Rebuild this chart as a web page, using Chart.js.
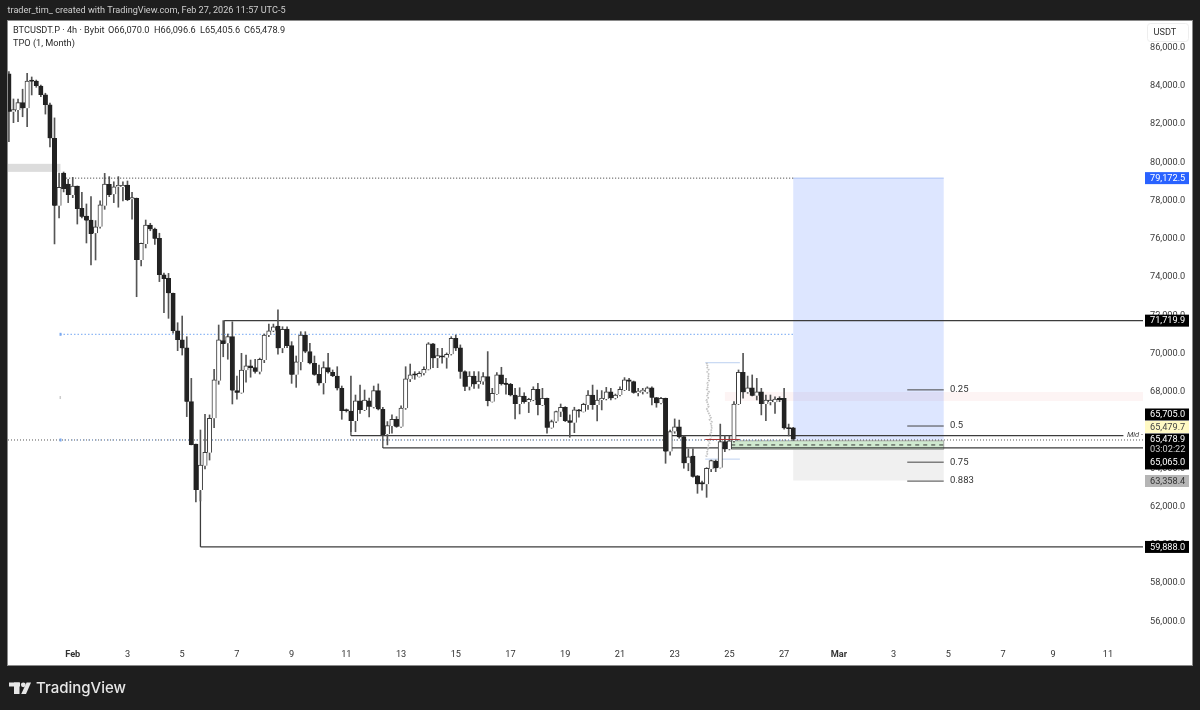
<!DOCTYPE html>
<html><head><meta charset="utf-8">
<style>html,body{margin:0;padding:0;background:#1e1e1e;overflow:hidden}canvas{display:block}</style>
<script src="https://cdn.jsdelivr.net/npm/chart.js@4"></script>
</head><body><canvas id="c" width="1200" height="710" style="width:1200px;height:710px"></canvas>
<script>
const opens=[84580,82600,82690,83080,82780,84210,84210,83950,83480,82960,81210,77690,79400,78820,78250,78720,77550,77150,76940,76250,76590,77690,78810,78290,78680,78670,78770,78020,78080,74850,75690,76680,76470,75980,74070,73890,73110,71140,70680,70260,67440,65230,62820,64090,64770,66570,68540,70630,70490,70840,68020,67910,69080,69310,69220,69010,69620,70930,71150,71400,70230,71240,70370,68850,69520,70930,70060,69450,68870,68400,69220,68980,68780,68140,66990,66950,66430,67490,67010,67480,67150,68020,67040,65740,66170,66520,66130,67100,68610,68890,68750,68930,69130,70460,69710,69830,69740,69920,70760,70260,69010,68220,68780,68350,68490,68750,67440,67840,68840,68400,68350,67780,67320,67740,67420,67530,68090,67270,67620,66080,66400,66920,67150,66450,66340,67010,66920,67270,67790,67270,67530,67580,67960,67620,67790,68050,68580,68490,67910,67960,67930,68170,67650,67360,67620,64830,65880,66130,65610,64220,64600,63560,63210,63120,63910,64340,63990,65350,64950,65390,67320,68980,67930,68170,67750,67960,67320,67410,67410,67620,67620,66050,66070];
const highs=[84700,83270,83270,83780,84610,84420,84260,84000,83570,83060,82280,79400,79450,79070,79170,78720,78390,77780,78160,76910,77940,79380,79210,78940,79210,78940,78980,78390,78090,75740,76940,76770,76520,76250,74170,74150,73120,71570,71920,70840,68660,65230,65960,66780,66750,69130,71450,71680,70980,71620,68780,69970,69880,69620,69660,69720,70980,71500,71500,72240,71360,71360,70580,69830,71100,71100,70490,69830,69360,69530,69970,69100,69270,68260,67060,68780,67790,68310,68050,67630,68260,68370,67150,66400,66750,66660,67220,69270,69410,69010,69010,69270,70530,70490,70230,70230,69990,70840,70930,70410,69060,69010,69010,69010,68960,70060,68140,68960,69240,68660,68400,68140,68170,67910,67620,68220,68400,68140,67630,66480,66950,67320,67180,66750,67150,67040,67360,68020,68310,68050,68020,68190,68140,67840,68220,68700,68660,68520,68140,68140,68220,68220,67670,67670,67630,65960,66540,66480,65650,64970,64970,63580,63290,63990,64390,64390,66270,65650,65650,67440,69100,69970,68780,68840,68660,68140,67790,67790,67700,67700,68140,66270,66100];
const lows=[81040,82030,82080,82340,81820,83480,83880,83390,82480,80760,75690,77050,78410,77850,78110,76730,77050,75740,74590,74850,76520,77500,78160,77850,77610,77940,77950,76990,72930,74540,75480,76380,75670,73720,72090,71800,71030,70110,69880,66660,65180,62200,62250,63920,64390,66080,68350,69790,69660,67320,67570,67880,68460,68720,68930,68890,69480,70840,71100,69930,70000,70260,68400,68190,69100,70000,69410,68820,68310,67840,68930,68750,68050,66520,66900,65870,65870,66830,66970,66640,67110,67010,65700,65180,65790,66100,66100,67040,68490,68610,68730,68840,69100,69220,69220,69460,69190,69880,70110,68660,68020,68050,68140,68140,68350,67220,67420,67820,68310,67840,67740,66540,66800,67360,66870,67490,66750,67240,65790,66050,66340,66660,66400,65580,65820,66630,66900,67040,67040,66430,67010,67530,67530,67580,67740,68020,68020,67880,67740,67840,67880,67270,67150,67320,64220,64650,65790,65530,63960,63830,63500,62650,62820,62440,63780,63780,63970,64830,64920,65320,67290,67620,67880,67740,67530,66750,66450,67270,66830,67440,66000,65650,65410];
const closes=[82600,82720,83080,82780,84210,84180,83950,83480,82960,81210,77690,78650,78560,78250,78720,77520,77110,76910,76210,76590,77730,78820,78250,78680,78720,78760,77990,78110,74850,75720,76680,76460,75960,74070,73860,73110,71140,70670,70230,67440,65180,62820,64130,64790,66570,68580,70670,70460,70840,68020,67910,69100,69310,69200,69010,69660,70930,71150,71360,70230,71230,70350,68850,69530,70930,70060,69450,68850,68400,69220,68980,68780,68140,66950,66950,66430,67490,67010,67530,67180,68020,67040,65700,66190,66520,66130,67110,68630,68840,68820,68930,69130,70460,69710,69850,69760,69920,70760,70230,69010,68220,68780,68350,68520,68750,67480,67880,68840,68370,68330,67780,67320,67740,67420,67570,68090,67270,67620,66080,66400,66920,67150,66430,66340,67010,66940,67300,67790,67270,67530,67620,67960,67620,67790,68090,68580,68490,67910,68000,68050,68170,67650,67360,67620,64830,65880,66130,65580,64220,64560,63520,63120,63120,63960,64360,63960,65350,64950,65390,67320,68980,67930,68170,67750,67960,67320,67530,67530,67580,67530,66050,66010,65478.9];

const xTickIdx=[14,26,38,50,62,74,86,98,110,122,134,146,158,170,182,194,206,218,229,241];
const xTickText=['Feb','3','5','7','9','11','13','15','17','19','21','23','25','27','Mar','3','5','7','9','11'];
const yTickValues=[56000,58000,60000,62000,64000,66000,68000,70000,72000,74000,76000,78000,80000,82000,84000,86000];

const upperLevel=71719.9, lowerLevel=59888.0, rangeHigh=65705.0, rangeLow=65065.0;
const midDotted=65479.7, targetPrice=79172.5, stopPrice=63358.4, blueDotted=71006;
const fibLevels=[68100,66210,64320,63330];
const fibNames=['0.25','0.5','0.75','0.883'];
const tpoPrices=[69480,69380,69250,69120,69000,68850,68700,68560,68400,68250,68100,67950,67800,67650,67500,67350,67200,67050,66900,66750,66620,66500,66380,66250,66120,66000,65880,65750,65620,65500,65380,65250,65120,65000,64880,64750,64620,64500];
const tpoWidths=[0.3,0.6,0.4,0.8,0.5,0.9,0.6,0.9,0.5,0.7,0.4,0.9,0.4,0.7,0.3,0.6,0.8,0.4,0.7,1.0,1.3,1.0,1.5,1.2,1.6,1.3,1.5,1.1,1.4,1.2,0.8,1.0,0.6,0.8,0.4,0.6,0.3,0.4];

const idx=opens.map((_,i)=>i);
const wicks=idx.map(i=>({x:i,y:[lows[i],highs[i]]}));
const bodies=idx.map(i=>({x:i,y:[Math.min(opens[i],closes[i]),Math.max(opens[i],closes[i])]}));
const FONT='Roboto, sans-serif';
const levelNudge=0.8;

function hline(ctx,x1,x2,y,color,w,dash){ctx.save();ctx.strokeStyle=color;ctx.lineWidth=w;ctx.setLineDash(dash||[]);ctx.beginPath();ctx.moveTo(x1,y);ctx.lineTo(x2,y);ctx.stroke();ctx.restore();}
function vline(ctx,x,y1,y2,color,w){ctx.save();ctx.strokeStyle=color;ctx.lineWidth=w;ctx.beginPath();ctx.moveTo(x,y1);ctx.lineTo(x,y2);ctx.stroke();ctx.restore();}
function priceTag(ctx,text,y,bg,fg,h){ctx.fillStyle=bg;ctx.fillRect(1145,y-(h||12)/2,44,h||12);ctx.fillStyle=fg;ctx.font='9.2px '+FONT;ctx.textAlign='left';ctx.textBaseline='middle';ctx.fillText(text,1150,y+0.5);}

const backdrop={id:'backdrop',
 beforeDraw(c){const g=c.ctx;g.save();g.fillStyle='#1e1e1e';g.fillRect(0,0,1200,710);g.fillStyle='#8a8a8a';g.fillRect(7,20,1186,646);g.fillStyle='#fff';g.fillRect(8,21,1184,644);g.restore();},
 beforeDatasetsDraw(c){const g=c.ctx,X=c.scales.x,Y=c.scales.y,px=v=>X.getPixelForValue(v),py=v=>Y.getPixelForValue(v)+levelNudge,L=c.chartArea.left,R=c.chartArea.right;
  g.save();
  g.beginPath();g.rect(L,c.chartArea.top,R-L,c.chartArea.bottom-c.chartArea.top);g.clip();
  g.fillStyle='#dcdcdc';g.fillRect(L,py(79920),px(11.3)-L,py(79500)-py(79920));
  g.fillStyle='#fdf4f4';g.fillRect(px(157),py(67990),R-px(157),py(67520)-py(67990));
  g.fillStyle='rgba(41,98,255,0.16)';g.fillRect(px(172),py(targetPrice),px(205)-px(172),py(midDotted)-py(targetPrice));
  hline(g,px(172),px(205),py(targetPrice),'#a9c0f5',1);
  g.fillStyle='#f0f0f0';g.fillRect(px(172),py(midDotted),px(205)-px(172),py(stopPrice)-py(midDotted));
  g.fillStyle='#cfe9cf';g.fillRect(px(158.4),py(65440),px(205)-px(158.4),py(64990)-py(65440));
  hline(g,px(158.4),px(205),py(65440),'#999',0.8);hline(g,px(158.4),px(205),py(64990),'#999',0.8);
  vline(g,px(205),py(65440),py(64990),'#999',0.8);
  hline(g,px(158.4),px(205),py(65220),'#222',0.9,[4,4]);
  const dark='#3c3c3c';
  hline(g,px(47.2),R,py(upperLevel),dark,1.3);vline(g,px(47.2),py(upperLevel),py(70650),dark,1.3);
  hline(g,px(42),R,py(lowerLevel),dark,1.3);vline(g,px(42),py(lowerLevel),py(62800),dark,1.3);
  hline(g,px(75),px(244.4),py(rangeHigh),dark,1.2);vline(g,px(75),py(rangeHigh),py(66430),dark,1.2);
  hline(g,px(82),R,py(rangeLow),dark,1.2);vline(g,px(82),py(rangeLow),py(65700),dark,1.2);
  hline(g,px(11.9),px(172),py(targetPrice),'#333',1,[1,2]);
  hline(g,px(11.2),px(172),py(blueDotted),'#8fb8f5',1.3,[1.5,2]);
  hline(g,L,R,py(midDotted),'#555',1,[1,2]);
  hline(g,px(11.2),px(172),py(midDotted),'#8fb8f5',1,[1,3]);
  g.fillStyle='#7aa8ef';g.fillRect(px(11.1),py(blueDotted)-1.5,2,3);g.fillRect(px(11.1),py(midDotted)-1.5,2,3);
  g.fillStyle='#ccc';g.fillRect(px(11.1),py(67700)-1.5,1.5,3);
  hline(g,px(152.7),px(160.3),py(69520),'#bcd0f0',1);
  hline(g,px(152.7),px(160.3),py(64480),'#bcd0f0',1);
  fibLevels.forEach((v,i)=>{hline(g,px(197),px(205),py(v),'#444',1);
    g.fillStyle='#333';g.font='9.5px '+FONT;g.textAlign='left';g.textBaseline='middle';g.fillText(fibNames[i],950,py(v));});
  g.restore();
 },
 afterDatasetsDraw(c){const g=c.ctx,X=c.scales.x,Y=c.scales.y;
  hline(g,X.getPixelForValue(152.7),X.getPixelForValue(160.3),Y.getPixelForValue(midDotted)+levelNudge-0.5,'#a33',1);
 },
 afterDraw(c){const g=c.ctx,Y=c.scales.y,py=v=>Y.getPixelForValue(v)+levelNudge;
  g.save();
  g.textBaseline='middle';g.textAlign='left';
  g.fillStyle='#cfcfcf';g.font='9.15px '+FONT;g.fillText('trader_tim_ created with TradingView.com, Feb 27, 2026 11:57 UTC-5',7.5,11);
  g.fillStyle='#2a2a2a';g.font='9.2px '+FONT;
  g.fillText('BTCUSDT.P · 4h · Bybit',13,30.5);
  g.fillText('O66,070.0',108,30.5);g.fillText('H66,096.6',154,30.5);g.fillText('L65,405.6',200,30.5);g.fillText('C65,478.9',244,30.5);
  g.fillText('TPO (1, Month)',13,43.5);
  g.fillStyle='#fff';g.fillRect(1125,431,18,8);
  g.fillStyle='#444';g.font='italic 7.5px '+FONT;g.fillText('Mid -',1127,435.5);
  g.fillStyle='#fff';g.strokeStyle='#eeeeee';g.lineWidth=1;g.beginPath();g.roundRect(1147.5,23.5,41,18,3);g.fill();g.stroke();
  g.fillStyle='#333';g.font='9.2px '+FONT;g.fillText('USDT',1153.5,33);
  priceTag(g,'79,172.5',py(targetPrice),'#2962ff','#fff');
  priceTag(g,'71,719.9',py(upperLevel),'#000','#fff');
  priceTag(g,'65,705.0',414.5,'#000','#fff');
  priceTag(g,'65,479.7',427,'#fff9c4','#444');
  g.fillStyle='#000';g.fillRect(1145,433.5,44,36);
  g.fillStyle='#fff';g.font='9.2px '+FONT;g.fillText('65,478.9',1150,440);
  g.fillStyle='#ccc';g.fillText('03:02:22',1150,450);
  g.fillStyle='#fff';g.fillText('65,065.0',1150,463);
  priceTag(g,'63,358.4',481,'#b5b5b5','#333');
  priceTag(g,'59,888.0',py(lowerLevel),'#000','#fff');
  g.fillStyle='#e6e6e6';
  g.fillRect(9,682.5,11,4);g.fillRect(14,682.5,5.5,11.5);
  g.beginPath();g.arc(23.3,684.8,2.4,0,7);g.fill();
  g.beginPath();g.moveTo(26.6,682.5);g.lineTo(31,682.5);g.lineTo(26,694);g.lineTo(21.2,694);g.closePath();g.fill();
  g.font='500 15px Inter, '+FONT;g.fillText('TradingView',36,688.5);
  g.restore();
 }
};

new Chart(document.getElementById('c'),{
 data:{datasets:[
  {type:'bar',order:3,data:wicks,barThickness:1,backgroundColor:'#555555',borderWidth:0,grouped:false},
  {type:'bar',order:2,data:bodies,barThickness:4.4,minBarLength:1.5,grouped:false,
   backgroundColor:idx.map(i=>closes[i]>=opens[i]?'#ffffff':'#222222'),
   borderColor:idx.map(i=>closes[i]>=opens[i]?'#3c3c3c':'#222222'),borderWidth:1},
  {type:'line',order:4,data:tpoPrices.map((p,i)=>({x:152.65+tpoWidths[i],y:p})),borderColor:'#c4c4c4',borderWidth:1.8,borderDash:[1.5,1],pointRadius:0,tension:0}
 ]},
 plugins:[backdrop],
 options:{
  responsive:false,animation:false,devicePixelRatio:1,
  layout:{padding:{left:8,top:21,right:8,bottom:45}},
  plugins:{legend:{display:false},tooltip:{enabled:false}},
  scales:{
   x:{type:'linear',offset:false,min:-0.2,max:248.7,grid:{display:false,drawTicks:false,offset:false},border:{display:false},
    afterBuildTicks(s){s.ticks=xTickIdx.map(v=>({value:v}));},
    afterFit(s){s.height=20;},
    ticks:{autoSkip:false,maxRotation:0,padding:4,color:'#333',
     font:(ctx)=>({family:FONT,size:9.2,weight:(ctx.index===0||ctx.index===14)?'bold':'normal'}),
     callback:(v)=>xTickText[xTickIdx.indexOf(v)]}},
   y:{type:'linear',position:'right',min:54718,max:87347,grid:{display:false,drawTicks:false},border:{display:false},
    afterBuildTicks(s){s.ticks=yTickValues.map(v=>({value:v}));},
    afterFit(s){s.width=49;},
    ticks:{autoSkip:false,padding:7,labelOffset:0.8,color:'#3a3a3a',font:{family:FONT,size:9.2},
     callback:(v)=>v.toLocaleString('en-US',{minimumFractionDigits:1,maximumFractionDigits:1})}}
  }
 }
});
</script></body></html>
